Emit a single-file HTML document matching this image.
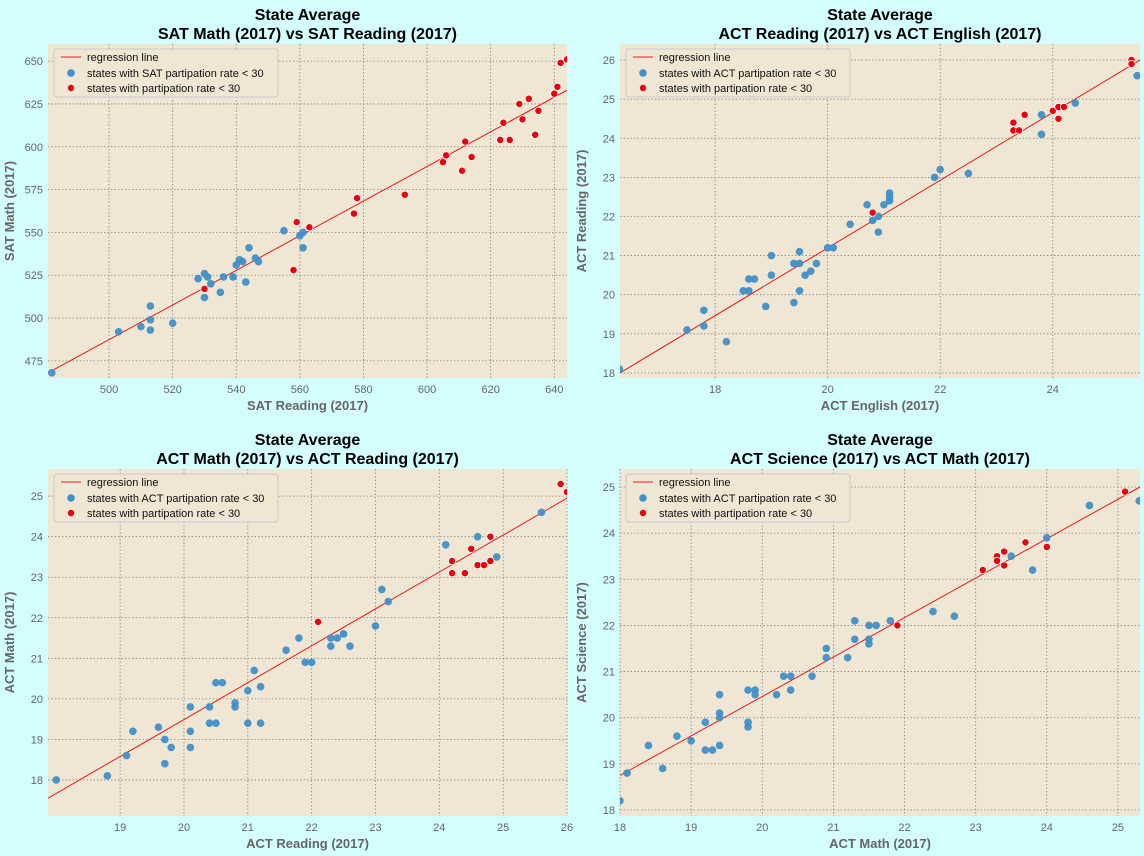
<!DOCTYPE html>
<html><head><meta charset="utf-8"><style>
body{margin:0;background:#d4fdfd;}
svg{display:block;font-family:"Liberation Sans","DejaVu Sans",sans-serif;}
</style></head><body>
<svg id="c" width="1144" height="856"></svg>
<script>
const tlBlue=[[482,468],[503,492],[510,495],[513,507],[513,499],[513,493],[520,497],[528,523],[530,526],[530,512],[531,524],[532,520],[535,515],[536,524],[539,524],[540,531],[541,534],[542,533],[543,521],[544,541],[546,535],[547,533],[555,551],[560,548],[561,541],[561,550]];
const tlRed=[[530,517],[558,528],[559,556],[563,553],[577,561],[578,570],[593,572],[605,591],[606,595],[611,586],[612,603],[614,594],[623,604],[624,614],[626,604],[629,625],[630,616],[632,628],[634,607],[635,621],[640,631],[641,635],[642,649],[644,651]];
const trBlue=[[16.3,18.1],[17.5,19.1],[17.8,19.2],[17.8,19.6],[18.2,18.8],[18.5,20.1],[18.6,20.4],[18.6,20.1],[18.7,20.4],[18.9,19.7],[19.0,21.0],[19.0,20.5],[19.4,19.8],[19.4,20.8],[19.5,20.1],[19.5,21.1],[19.5,20.8],[19.6,20.5],[19.7,20.6],[19.8,20.8],[20.0,21.2],[20.1,21.2],[20.4,21.8],[20.7,22.3],[20.8,21.9],[20.9,21.6],[20.9,22.0],[21.0,22.3],[21.1,22.6],[21.1,22.5],[21.1,22.4],[21.9,23.0],[22.0,23.2],[22.5,23.1],[23.8,24.6],[23.8,24.1],[24.4,24.9],[25.5,25.6]];
const trRed=[[20.8,22.1],[23.3,24.4],[23.3,24.2],[23.4,24.2],[23.5,24.6],[24.0,24.7],[24.1,24.8],[24.1,24.5],[24.2,24.8],[25.4,26.0],[25.4,25.9]];
const blBlue=[[18.0,18.0],[18.8,18.1],[19.1,18.6],[19.2,19.2],[19.6,19.3],[19.7,18.4],[19.7,19.0],[19.8,18.8],[20.1,19.8],[20.1,19.2],[20.1,18.8],[20.4,19.8],[20.4,19.4],[20.5,20.4],[20.5,19.4],[20.6,20.4],[20.8,19.9],[20.8,19.8],[21.0,20.2],[21.0,19.4],[21.1,20.7],[21.2,20.3],[21.2,19.4],[21.6,21.2],[21.8,21.5],[21.9,20.9],[22.0,20.9],[22.3,21.5],[22.3,21.3],[22.4,21.5],[22.5,21.6],[22.6,21.3],[23.0,21.8],[23.1,22.7],[23.2,22.4],[24.1,23.8],[24.6,24.0],[24.9,23.5],[25.6,24.6]];
const blRed=[[22.1,21.9],[24.2,23.4],[24.2,23.1],[24.4,23.1],[24.5,23.7],[24.6,23.3],[24.7,23.3],[24.8,23.4],[24.8,24.0],[25.9,25.3],[26.0,25.1]];
const brBlue=[[18.0,18.2],[18.1,18.8],[18.4,19.4],[18.6,18.9],[18.8,19.6],[19.0,19.5],[19.2,19.9],[19.2,19.3],[19.3,19.3],[19.4,20.5],[19.4,20.1],[19.4,20.0],[19.4,19.4],[19.8,20.6],[19.8,19.9],[19.8,19.8],[19.9,20.6],[19.9,20.5],[20.2,20.5],[20.3,20.9],[20.4,20.9],[20.4,20.6],[20.7,20.9],[20.9,21.5],[20.9,21.3],[21.2,21.3],[21.3,22.1],[21.3,21.7],[21.5,22.0],[21.5,21.7],[21.5,21.6],[21.6,22.0],[21.8,22.1],[22.4,22.3],[22.7,22.2],[23.5,23.5],[23.8,23.2],[24.0,23.9],[24.6,24.6],[25.3,24.7]];
const brRed=[[21.9,22.0],[23.1,23.2],[23.3,23.5],[23.3,23.4],[23.4,23.6],[23.4,23.3],[23.7,23.8],[24.0,23.7],[25.1,24.9]];
const tlLine=[[480.8,468],[644,633]];
const trLine=[[16.31,18.0],[25.55,26.0]];
const blLine=[[17.87,17.55],[26,24.95]];
const brLine=[[18,18.75],[25.31,25.0]];

const NS="http://www.w3.org/2000/svg";
const svg=document.getElementById('c');
function mk(t,a,p){const e=document.createElementNS(NS,t);for(const k in a)e.setAttribute(k,a[k]);(p||svg).appendChild(e);return e;}
const panels=[
 {id:'sat-math-vs-reading',box:[48,44,567,378],xd:[480.8,644],yd:[465,660],xt:[500,520,540,560,580,600,620,640],yt:[475,500,525,550,575,600,625,650],t1:'State Average',t2:'SAT Math (2017) vs SAT Reading (2017)',xl:'SAT Reading (2017)',yl:'SAT Math (2017)',lg:'states with SAT partipation rate < 30',b:tlBlue,r:tlRed,ln:tlLine},
 {id:'act-reading-vs-english',box:[620,44,1140,378],xd:[16.31,25.55],yd:[17.87,26.41],xt:[18,20,22,24],yt:[18,19,20,21,22,23,24,25,26],t1:'State Average',t2:'ACT Reading (2017) vs ACT English (2017)',xl:'ACT English (2017)',yl:'ACT Reading (2017)',lg:'states with ACT partipation rate < 30',b:trBlue,r:trRed,ln:trLine},
 {id:'act-math-vs-reading',box:[48,469,567,816],xd:[17.87,26],yd:[17.11,25.67],xt:[19,20,21,22,23,24,25,26],yt:[18,19,20,21,22,23,24,25],t1:'State Average',t2:'ACT Math (2017) vs ACT Reading (2017)',xl:'ACT Reading (2017)',yl:'ACT Math (2017)',lg:'states with ACT partipation rate < 30',b:blBlue,r:blRed,ln:blLine},
 {id:'act-science-vs-math',box:[620,469,1140,816],xd:[18,25.31],yd:[17.87,25.39],xt:[18,19,20,21,22,23,24,25],yt:[18,19,20,21,22,23,24,25],t1:'State Average',t2:'ACT Science (2017) vs ACT Math (2017)',xl:'ACT Math (2017)',yl:'ACT Science (2017)',lg:'states with ACT partipation rate < 30',b:brBlue,r:brRed,ln:brLine}
];
panels.forEach(P=>{
 const [x0,y0,x1,y1]=P.box;
 const g=mk('g',{});
 
 
 const X=v=>x0+(v-P.xd[0])/(P.xd[1]-P.xd[0])*(x1-x0);
 const Y=v=>y1-(v-P.yd[0])/(P.yd[1]-P.yd[0])*(y1-y0);
 const bg=mk('rect',{x:x0,y:y0,width:x1-x0,height:y1-y0,fill:'#efe6d4'},g);
 
 
 const cid='clip'+P.id;const cp=mk('clipPath',{id:cid},g);mk('rect',{x:x0,y:y0,width:x1-x0,height:y1-y0},cp);
 P.xt.forEach(v=>{const x=X(v);mk('line',{x1:x,x2:x,y1:y0,y2:y1,stroke:'#888','stroke-dasharray':'1.5,2','stroke-width':0.8},g);
  const t=mk('text',{x:x,y:y1+15,'text-anchor':'middle','font-size':11,fill:'#666'},g);t.textContent=v;
  });
 P.yt.forEach(v=>{const y=Y(v);mk('line',{x1:x0,x2:x1,y1:y,y2:y,stroke:'#888','stroke-dasharray':'1.5,2','stroke-width':0.8},g);
  const t=mk('text',{x:x0-5,y:y+4,'text-anchor':'end','font-size':11,fill:'#666'},g);t.textContent=v;
  });
 const pg=mk('g',{'clip-path':'url(#'+cid+')'},g);
 const l=mk('line',{x1:X(P.ln[0][0]),y1:Y(P.ln[0][1]),x2:X(P.ln[1][0]),y2:Y(P.ln[1][1]),stroke:'#e8191b','stroke-width':1},pg);
 
 P.b.forEach(d=>{const c=mk('circle',{cx:X(d[0]),cy:Y(d[1]),r:3.8,fill:'#3f8fc8',opacity:0.95},pg);
  });
 P.r.forEach(d=>{const c=mk('circle',{cx:X(d[0]),cy:Y(d[1]),r:3.6,fill:'#e8000e',stroke:'#fff','stroke-width':0.7},pg);
  });
 const cx=(x0+x1)/2;
 const t1=mk('text',{x:cx,y:20,'text-anchor':'middle','font-size':16,'font-weight':'bold',fill:'#000'},g);
 t1.setAttribute('y',y0-24);t1.textContent=P.t1;
 
 const t2=mk('text',{x:cx,y:y0-5,'text-anchor':'middle','font-size':16,'font-weight':'bold',fill:'#000'},g);t2.textContent=P.t2;
 
 const xl=mk('text',{x:cx,y:y1+32,'text-anchor':'middle','font-size':13,'font-weight':'bold',fill:'#666'},g);xl.textContent=P.xl;
 
 const yl=mk('text',{x:0,y:0,'text-anchor':'middle','font-size':13,'font-weight':'bold',fill:'#666',transform:`translate(${x0-34},${(y0+y1)/2}) rotate(-90)`},g);yl.textContent=P.yl;
 
 const lgG=mk('g',{},g);
 
 mk('rect',{x:x0+6,y:y0+5,width:224,height:48,rx:3,fill:'#efe6d4',stroke:'#ccc'},lgG);
 mk('line',{x1:x0+13,x2:x0+33,y1:y0+13,y2:y0+13,stroke:'#e8191b','stroke-width':1},lgG);
 mk('circle',{cx:x0+23,cy:y0+29,r:3.8,fill:'#3f8fc8'},lgG);
 mk('circle',{cx:x0+23,cy:y0+44,r:3.2,fill:'#e8000e'},lgG);
 [['regression line',17],[P.lg,33],['states with partipation rate < 30',48]].forEach(([s,dy])=>{
  const t=mk('text',{x:x0+39,y:y0+dy,'font-size':11,fill:'#111'},lgG);t.textContent=s;
  });
});
</script>
</body></html>
